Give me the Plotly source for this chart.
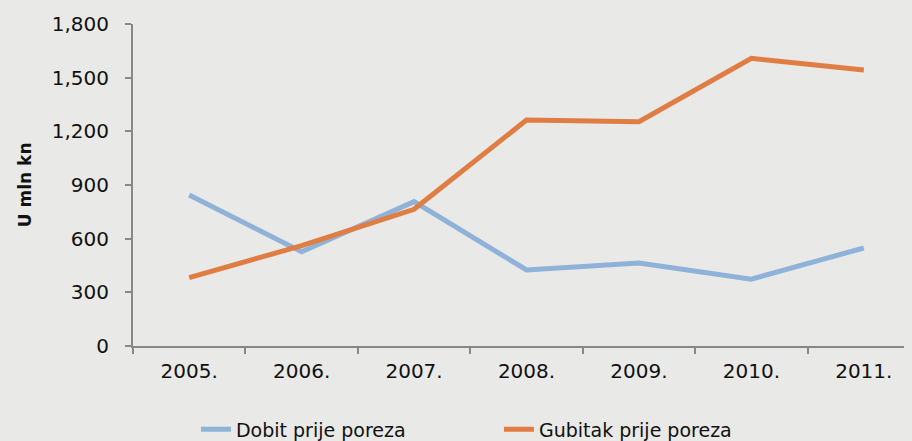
import plotly.graph_objects as go

years = ["2005.", "2006.", "2007.", "2008.", "2009.", "2010.", "2011."]
dobit = [844, 527, 807, 425, 464, 374, 548]
gubitak = [382, 561, 764, 1263, 1254, 1608, 1543]
y_ticks = [0, 300, 600, 900, 1200, 1500, 1800]

FONT = "DejaVu Sans"
BG = "#e9e9e7"
fig = go.Figure()
fig.add_trace(go.Scatter(x=years, y=dobit, mode="lines", name="Dobit prije poreza",
                         line=dict(color="#8fb3d8", width=5)))
fig.add_trace(go.Scatter(x=years, y=gubitak, mode="lines", name="Gubitak prije poreza",
                         line=dict(color="#e07d42", width=5)))

fig.update_layout(
    width=912, height=441,
    margin=dict(l=125, r=0, t=16, b=103),
    paper_bgcolor=BG, plot_bgcolor=BG,
    font=dict(family=FONT, size=19, color="#111"),
    showlegend=True,
    legend=dict(orientation="h", x=0.08, xanchor="left", y=-0.2, yanchor="top",
                font=dict(size=19), bgcolor="rgba(0,0,0,0)", entrywidth=258,
                tracegroupgap=0),
    xaxis=dict(type="category", range=[-0.5, 6.5], showgrid=False, showline=True,
               linecolor="#888", linewidth=2, ticks="outside", tickson="boundaries",
               ticklen=6, tickcolor="#888", tickwidth=2, tickfont=dict(size=20),
               ticklabelstandoff=6, automargin=False),
    yaxis=dict(range=[0, 1800], tickvals=y_ticks, tickformat=",", showgrid=False,
               zeroline=False, showline=True, linecolor="#888", linewidth=2,
               ticks="outside", ticklen=6, tickcolor="#888", tickwidth=2,
               tickfont=dict(size=20), ticklabelstandoff=12, automargin=False),
    annotations=[dict(text="<b>U mln kn</b>", textangle=-90, xref="paper", yref="paper",
                      x=-0.137, y=0.5, xanchor="center", yanchor="middle",
                      showarrow=False, font=dict(size=17, family=FONT, color="#111"))],
)
fig.write_html("out.html",
               post_script="document.body.style.background='%s';"
                           "document.documentElement.style.background='%s';" % (BG, BG))
